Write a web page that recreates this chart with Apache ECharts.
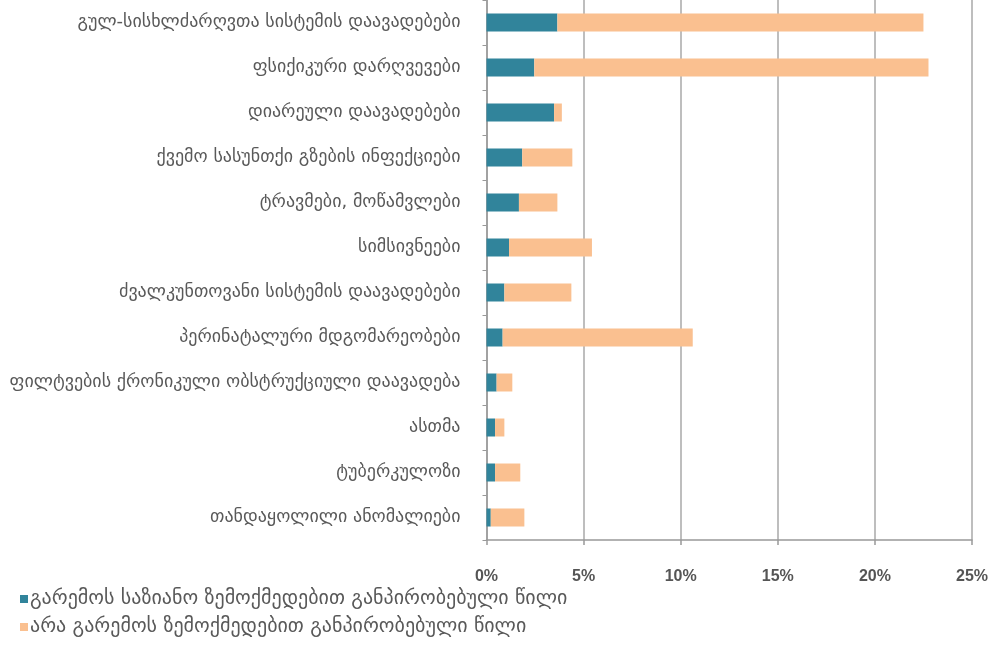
<!DOCTYPE html>
<html>
<head>
<meta charset="utf-8">
<script src="https://cdn.jsdelivr.net/npm/echarts@6/dist/echarts.min.js"></script>
<style>
html,body{margin:0;padding:0;background:#fff;}
#chart{width:996px;height:650px;}
</style>
</head>
<body>
<div id="chart"></div>
<script>
const categories = [
  "გულ-სისხლძარღვთა სისტემის დაავადებები",
  "ფსიქიკური დარღვევები",
  "დიარეული დაავადებები",
  "ქვემო სასუნთქი გზების ინფექციები",
  "ტრავმები, მოწამვლები",
  "სიმსივნეები",
  "ძვალკუნთოვანი სისტემის დაავადებები",
  "პერინატალური მდგომარეობები",
  "ფილტვების ქრონიკული ობსტრუქციული დაავადება",
  "ასთმა",
  "ტუბერკულოზი",
  "თანდაყოლილი ანომალიები"
];
const seriesNames = [
  "გარემოს საზიანო ზემოქმედებით განპირობებული წილი",
  "არა გარემოს ზემოქმედებით განპირობებული წილი"
];
const envShare = [3.65, 2.46, 3.48, 1.84, 1.67, 1.16, 0.92, 0.83, 0.52, 0.44, 0.44, 0.22];
const nonEnvShare = [18.85, 20.3, 0.4, 2.58, 1.98, 4.27, 3.45, 9.79, 0.81, 0.48, 1.3, 1.73];
const xTicks = [0, 5, 10, 15, 20, 25];

const chart = echarts.init(document.getElementById('chart'));
const fontFam = '"DejaVu Sans", sans-serif';
chart.setOption({
  animation: false,
  backgroundColor: '#ffffff',
  grid: { left: 486.5, right: 24, top: -6, bottom: 110 },
  legend: {
    orient: 'vertical',
    left: 20,
    top: 589,
    padding: 0,
    itemWidth: 8,
    itemHeight: 8,
    itemGap: 8,
    icon: 'rect',
    textStyle: { fontFamily: fontFam, fontSize: 20, color: '#595959', padding: [0, 0, 0, -3] },
    data: seriesNames
  },
  xAxis: {
    type: 'value',
    min: xTicks[0],
    max: xTicks[xTicks.length - 1],
    interval: 5,
    axisLine: { show: true, lineStyle: { color: '#999', width: 1.5 } },
    axisTick: { show: true, length: 5, lineStyle: { color: '#999', width: 1.5 } },
    splitLine: { show: true, lineStyle: { color: '#a8a8a8', width: 1.5 } },
    axisLabel: {
      formatter: '{value}%',
      margin: 29,
      fontFamily: '"Liberation Sans", sans-serif',
      fontSize: 16,
      fontWeight: 'bold',
      color: '#555555'
    }
  },
  yAxis: {
    type: 'category',
    inverse: true,
    data: categories,
    axisLine: { show: true, lineStyle: { color: '#999', width: 1.5 } },
    axisTick: { show: true, length: 4, lineStyle: { color: '#999' } },
    axisLabel: { margin: 26, fontFamily: fontFam, fontSize: 18, color: '#595959' }
  },
  series: [
    {
      name: seriesNames[0],
      type: 'bar',
      stack: 'total',
      barWidth: 18,
      itemStyle: { color: '#31849b' },
      data: envShare
    },
    {
      name: seriesNames[1],
      type: 'bar',
      stack: 'total',
      barWidth: 18,
      itemStyle: { color: '#fac090' },
      data: nonEnvShare
    }
  ]
});
</script>
</body>
</html>
